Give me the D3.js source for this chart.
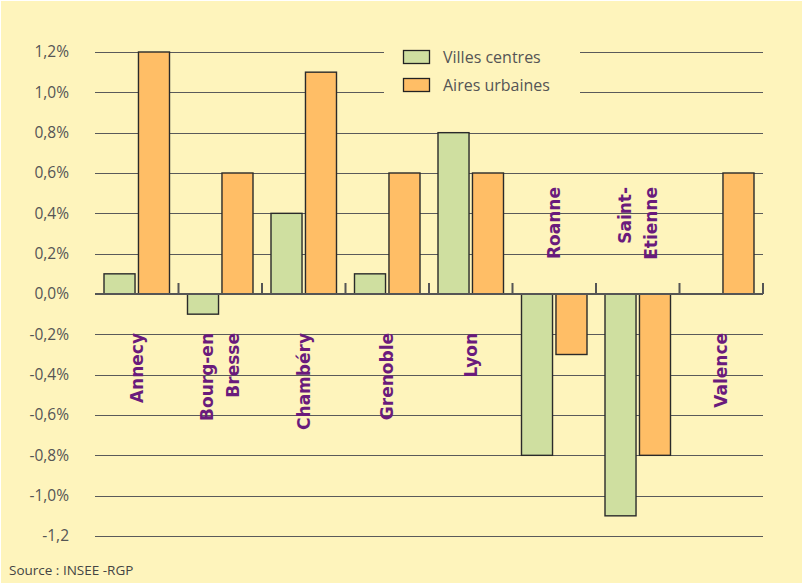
<!DOCTYPE html>
<html>
<head>
<meta charset="utf-8" />
<title>Villes centres / Aires urbaines</title>
<script src="https://cdn.jsdelivr.net/npm/d3@7"></script>
<style>
  body { margin: 0; background: #fff; }
  #chart { width: 803px; height: 584px; }
  .tick-label { font-family: "Open Sans"; font-size: 15.5px; fill: #555; }
  .cat { font-family: "DejaVu Sans"; font-weight: bold; font-size: 17px; fill: #6a1b7c; }
  .legend text { font-family: "Open Sans"; font-size: 16px; fill: #555; }
  .source { font-family: "Open Sans"; font-size: 13.5px; fill: #444; }
</style>
</head>
<body>
<div id="chart"></div>
<script>
// data (annual change, %)
var categories = [["Annecy"], ["Bourg-en", "Bresse"], ["Chambéry"], ["Grenoble"], ["Lyon"], ["Roanne"], ["Saint-", "Etienne"], ["Valence"]];
var villesCentres = [0.1, -0.1, 0.4, 0.1, 0.8, -0.8, -1.1, 0.0];
var airesUrbaines = [1.2, 0.6, 1.1, 0.6, 0.6, -0.3, -0.8, 0.6];
var yTickValues = [1.2, 1.0, 0.8, 0.6, 0.4, 0.2, 0, -0.2, -0.4, -0.6, -0.8, -1.0, -1.2];
var yTickLabels = ["1,2%", "1,0%", "0,8%", "0,6%", "0,4%", "0,2%", "0,0%", "-0,2%", "-0,4%", "-0,6%", "-0,8%", "-1,0%", "-1,2"];
var seriesNames = ["Villes centres", "Aires urbaines"];
var seriesColors = ["#cfdfa0", "#ffbe66"];

var width = 803, height = 584;

var svg = d3.select("#chart").append("svg")
    .attr("width", width)
    .attr("height", height);

svg.append("rect")
    .attr("x", 1).attr("y", 1)
    .attr("width", width - 2).attr("height", height - 2)
    .attr("fill", "#fef4bc");

var x = d3.scaleBand().domain(d3.range(categories.length)).range([95, 763]);
var x1 = d3.scaleBand().domain([0, 1]).range([9, x.bandwidth() - 9]).paddingInner(0.1);
var y = d3.scaleLinear().domain([-1.2, 1.2]).range([536, 52]);

// gridlines
svg.append("g").selectAll("line")
    .data(yTickValues.filter(function(d) { return d !== 0; }))
  .enter().append("line")
    .attr("x1", 95).attr("x2", 763)
    .attr("y1", function(d) { return Math.round(y(d)) + 0.5; })
    .attr("y2", function(d) { return Math.round(y(d)) + 0.5; })
    .attr("stroke", "#5a5a5a")
    .attr("stroke-width", 1.2);

// y labels
svg.append("g").selectAll("text")
    .data(yTickValues)
  .enter().append("text")
    .attr("class", "tick-label")
    .attr("x", 69)
    .attr("y", function(d) { return y(d); })
    .attr("dy", "0.35em")
    .attr("text-anchor", "end")
    .text(function(d, i) { return yTickLabels[i]; });

// legend (its background hides the grid)
var legend = svg.append("g").attr("class", "legend");
legend.append("rect")
    .attr("x", 384).attr("y", 40).attr("width", 196).attr("height", 64)
    .attr("fill", "#fef4bc");
seriesNames.forEach(function(name, i) {
  legend.append("rect")
      .attr("x", 403.5).attr("y", 50.5 + i * 28)
      .attr("width", 26).attr("height", 13)
      .attr("fill", seriesColors[i])
      .attr("stroke", "#222").attr("stroke-width", 1.3);
  legend.append("text")
      .attr("x", 443).attr("y", 63 + i * 28)
      .text(name);
});

// bars
var groups = svg.append("g").selectAll("g")
    .data(categories)
  .enter().append("g")
    .attr("transform", function(d, i) { return "translate(" + x(i) + ",0)"; });

groups.selectAll("rect")
    .data(function(d, i) { return [villesCentres[i], airesUrbaines[i]]; })
  .enter().append("rect")
    .attr("x", function(d, j) { return x1(j); })
    .attr("width", x1.bandwidth())
    .attr("y", function(d) { return y(Math.max(0, d)); })
    .attr("height", function(d) { return Math.abs(y(d) - y(0)); })
    .attr("fill", function(d, j) { return seriesColors[j]; })
    .attr("stroke", "#2a2a2a")
    .attr("stroke-width", 1.4);

// zero line with ticks at the group boundaries
var zero = svg.append("g");
zero.append("line")
    .attr("x1", 95).attr("x2", 763)
    .attr("y1", y(0)).attr("y2", y(0))
    .attr("stroke", "#555").attr("stroke-width", 2);
zero.selectAll(".sep")
    .data(d3.range(1, categories.length + 1))
  .enter().append("line")
    .attr("x1", function(i) { return i < categories.length ? x(i) : 763; })
    .attr("x2", function(i) { return i < categories.length ? x(i) : 763; })
    .attr("y1", y(0) - 11).attr("y2", y(0))
    .attr("stroke", "#555").attr("stroke-width", 2);

// category labels, written upward
groups.each(function(lines, i) {
  var neg = villesCentres[i] < 0 && airesUrbaines[i] < 0;
  var ly = neg ? y(0) - 107 : y(0) + 39;
  var cx = x.bandwidth() / 2;
  var g = d3.select(this);
  lines.forEach(function(line, k) {
    var lx = cx + (k - (lines.length - 1) / 2) * 26;
    g.append("text")
        .attr("class", "cat")
        .attr("transform", "translate(" + lx + "," + ly + ") rotate(-90)")
        .attr("text-anchor", "end")
        .attr("dy", "0.35em")
        .text(line);
  });
});

svg.append("text")
    .attr("class", "source")
    .attr("x", 9).attr("y", 575)
    .text("Source : INSEE -RGP");
</script>
</body>
</html>
